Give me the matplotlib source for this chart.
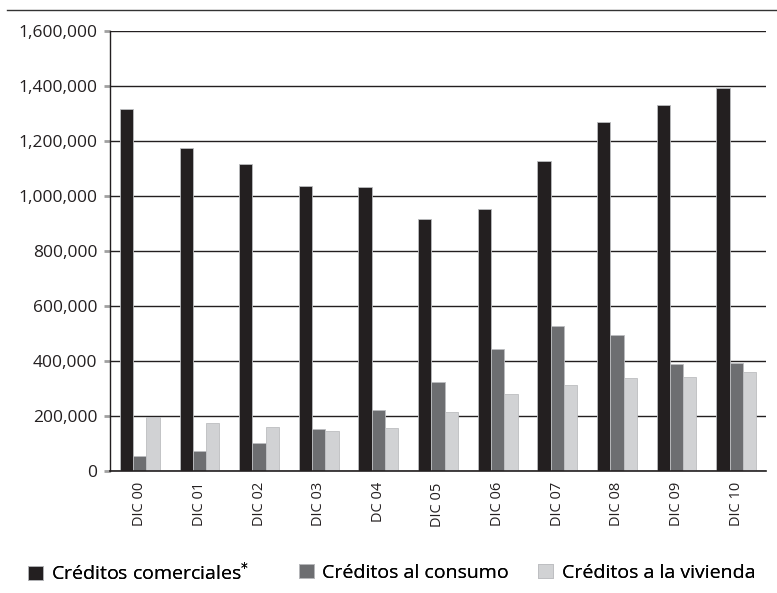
import numpy as np
import matplotlib
matplotlib.use('Agg')
import matplotlib.pyplot as plt
from matplotlib.ticker import FuncFormatter
from matplotlib.lines import Line2D

plt.rcParams['font.family'] = ['Open Sans', 'DejaVu Sans']

periods = ['DIC 00', 'DIC 01', 'DIC 02', 'DIC 03', 'DC 04', 'DIC 05',
           'DIC 06', 'DIC 07', 'DIC 08', 'DIC 09', 'DIC 10']
comerciales = [1316000, 1173000, 1117000, 1036000, 1033000, 916000,
               953000, 1126000, 1269000, 1331000, 1392000]
consumo = [53000, 74000, 103000, 153000, 221000, 325000,
           445000, 526000, 493000, 388000, 394000]
vivienda = [196000, 173000, 160000, 145000, 155000, 213000,
            279000, 314000, 337000, 341000, 359000]

series_names = ['Créditos comerciales$^{*}$', 'Créditos al consumo',
                'Créditos a la vivienda']
colors = ['#231f20', '#6d6e71', '#d1d2d4']

fig = plt.figure(figsize=(7.77, 5.93), dpi=100)
ax = fig.add_axes([0.1416, 0.2057, 0.8442, 0.742])

x = np.arange(len(periods))
w = 0.223
bars = []
for k, (vals, col, name) in enumerate(zip([comerciales, consumo, vivienda],
                                          colors, series_names)):
    b = ax.bar(x + (k - 1) * w, vals, width=w, color=col, edgecolor='#bcbdc0',
               linewidth=0.6, label=name, zorder=3)
    bars.append(b)

ax.set_xlim(-0.5, len(periods) - 0.5)
ax.set_ylim(0, 1600000)
ax.set_yticks(np.arange(0, 1600001, 200000))
ax.yaxis.set_major_formatter(FuncFormatter(lambda v, p: f'{int(v):,}'))
ax.grid(axis='y', color='#231f20', linewidth=1.0, zorder=1)
ax.set_axisbelow(True)

for s in ['top', 'right']:
    ax.spines[s].set_visible(False)
ax.spines['left'].set_color('#231f20')
ax.spines['bottom'].set_color('#231f20')
ax.spines['left'].set_linewidth(1.0)
ax.spines['bottom'].set_linewidth(1.2)
ax.spines['bottom'].set_zorder(4)

ax.set_xticks(x)
ax.set_xticklabels(periods, rotation=90, fontsize=10.5, color='#231f20')
ax.tick_params(axis='x', length=0, pad=8)
ax.tick_params(axis='y', length=4, width=2, color='#a0a0a0', pad=5,
               labelsize=12.5, labelcolor='#231f20')

# top rule
fig.add_artist(Line2D([0.009, 1.0], [0.983, 0.983], color='#333333',
                      linewidth=1.0, transform=fig.transFigure))

# one legend per series so each entry sits where it does in the original
leg_x = [0.036, 0.385, 0.693]
for b, name, lx in zip(bars, series_names, leg_x):
    lg = fig.legend([b], [name], loc='center left', bbox_to_anchor=(lx, 0.034),
                    frameon=False, fontsize=14, handlelength=0.75,
                    handleheight=0.75, handletextpad=0.45, borderaxespad=0,
                    borderpad=0)
    fig.add_artist(lg)

fig.savefig('out.png', dpi=100)
